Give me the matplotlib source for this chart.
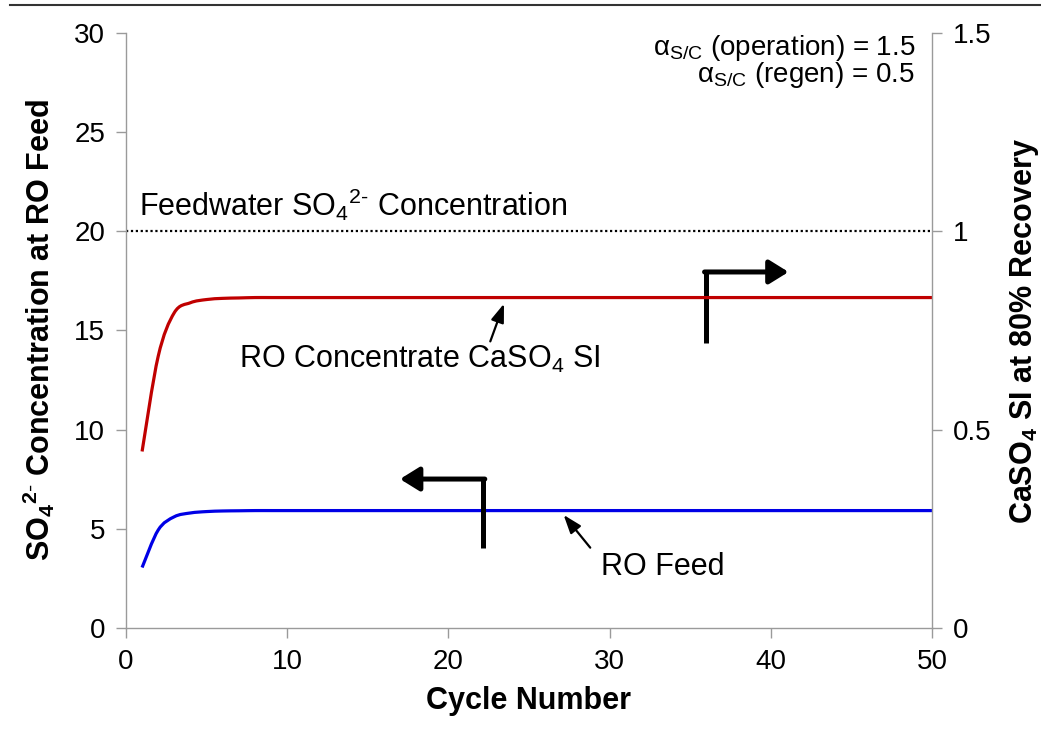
import matplotlib
matplotlib.use("Agg")
import matplotlib.pyplot as plt
from matplotlib.lines import Line2D
from matplotlib.path import Path
from matplotlib.patches import PathPatch

plt.rcParams['font.family'] = ['Liberation Sans', 'DejaVu Sans']
plt.rcParams['mathtext.fontset'] = 'custom'
plt.rcParams['mathtext.rm'] = 'Liberation Sans'
plt.rcParams['mathtext.it'] = 'Liberation Sans:italic'
plt.rcParams['mathtext.bf'] = 'Liberation Sans:bold'

# ---- data ----
cycles = list(range(1, 51))
ro_feed_head = [3.05, 4.94, 5.61, 5.80, 5.87, 5.90, 5.91]
ro_feed = ro_feed_head + [5.92] * (50 - len(ro_feed_head))
si_head = [0.445, 0.685, 0.795, 0.820, 0.828, 0.831, 0.832]
conc_si = si_head + [0.833] * (50 - len(si_head))
feedwater_so4 = 20

x_ticks = [0, 10, 20, 30, 40, 50]
y_left_ticks = [0, 5, 10, 15, 20, 25, 30]
y_right_ticks = [0, 0.5, 1, 1.5]
y_right_labels = ['0', '0.5', '1', '1.5']


def smooth_line(axis, xs, ys, **kw):
    """Excel-style smoothed line (Catmull-Rom Bezier through the data points)."""
    n = len(xs)
    verts = [(xs[0], ys[0])]
    codes = [Path.MOVETO]
    t = 1.0 / 6.0
    for i in range(n - 1):
        x0, y0 = (xs[i - 1], ys[i - 1]) if i > 0 else (xs[i], ys[i])
        x1, y1 = xs[i], ys[i]
        x2, y2 = xs[i + 1], ys[i + 1]
        x3, y3 = (xs[i + 2], ys[i + 2]) if i + 2 < n else (xs[i + 1], ys[i + 1])
        c1 = (x1 + (x2 - x0) * t, y1 + (y2 - y0) * t)
        c2 = (x2 - (x3 - x1) * t, y2 - (y3 - y1) * t)
        verts += [c1, c2, (x2, y2)]
        codes += [Path.CURVE4] * 3
    patch = PathPatch(Path(verts, codes), fill=False, **kw)
    axis.add_patch(patch)
    return patch


fig = plt.figure(figsize=(10.41, 7.31), dpi=100)
ax = fig.add_axes([0.121, 0.1409, 0.7743, 0.814])
ax2 = ax.twinx()

gray = '#9a9a9a'
smooth_line(ax, cycles, ro_feed, edgecolor='#0000E6', lw=2.3, capstyle='butt')
smooth_line(ax2, cycles, conc_si, edgecolor='#C00000', lw=2.3, capstyle='butt')
ax.axhline(feedwater_so4, color='black', lw=1.6, ls=(0, (1, 1.2)))

ax.set_xlim(0, 50)
ax.set_ylim(0, 30)
ax2.set_ylim(0, 1.5)
ax.set_xticks(x_ticks)
ax.set_yticks(y_left_ticks)
ax2.set_yticks(y_right_ticks)
ax2.set_yticklabels(y_right_labels)

for a in (ax, ax2):
    a.spines['top'].set_visible(False)
    for s in ('left', 'right', 'bottom'):
        a.spines[s].set_color(gray)
        a.spines[s].set_linewidth(1.0)
    a.tick_params(colors=gray, labelcolor='black', labelsize=20, length=7, width=1.0, direction='out', pad=8)
ax.spines['right'].set_visible(False)
ax2.spines['left'].set_visible(False)
ax2.spines['bottom'].set_visible(False)

ax.set_xlabel('Cycle Number', fontsize=22, fontweight='bold', labelpad=8)
ax.set_ylabel(r'$\mathbf{SO}_\mathbf{4}{}^{\mathbf{2}\text{-}}$ Concentration at RO Feed',
              fontsize=22, fontweight='bold', labelpad=12)
ax2.set_ylabel(r'$\mathbf{CaSO}_\mathbf{4}$ SI at 80% Recovery', fontsize=22, fontweight='bold', labelpad=12)

# annotations
ax.text(0.8, 20.78, r'Feedwater SO$_4{}^{2\text{-}}$ Concentration', fontsize=22, va='baseline', ha='left')
ax.text(7.0, 13.11, r'RO Concentrate CaSO$_4$ SI', fontsize=22, va='baseline', ha='left')
ax.text(29.45, 2.67, 'RO Feed', fontsize=22, va='baseline', ha='left')
ax.text(48.95, 28.9, r'α$_{\mathrm{S/C}}$ (operation) = 1.5', fontsize=20, va='baseline', ha='right')
ax.text(48.95, 27.55, r'α$_{\mathrm{S/C}}$ (regen) = 0.5', fontsize=20, va='baseline', ha='right')

# small pointer arrows
ax.annotate('', xy=(23.45, 16.35), xytext=(22.6, 14.45),
            arrowprops=dict(arrowstyle='-|>,head_length=0.7,head_width=0.25', color='black', lw=1.6,
                            mutation_scale=16, shrinkA=0, shrinkB=0))
ax.annotate('', xy=(27.15, 5.7), xytext=(28.8, 4.05),
            arrowprops=dict(arrowstyle='-|>,head_length=0.7,head_width=0.25', color='black', lw=1.6,
                            mutation_scale=16, shrinkA=0, shrinkB=0))

# bent axis-indicator arrows
ax.plot([36, 36], [14.37, 17.95], color='black', lw=3.6, solid_capstyle='butt')
ax.annotate('', xy=(41.1, 17.95), xytext=(35.89, 17.95),
            arrowprops=dict(arrowstyle='-|>,head_length=0.58,head_width=0.36', color='black', lw=3.6,
                            mutation_scale=20, shrinkA=0, shrinkB=0))
ax.plot([22.15, 22.15], [4.03, 7.51], color='black', lw=3.6, solid_capstyle='butt')
ax.annotate('', xy=(17.0, 7.51), xytext=(22.26, 7.51),
            arrowprops=dict(arrowstyle='-|>,head_length=0.58,head_width=0.36', color='black', lw=3.6,
                            mutation_scale=20, shrinkA=0, shrinkB=0))

# top border line
fig.add_artist(Line2D([0.01, 1.0], [0.993, 0.993], transform=fig.transFigure, color='#333333', lw=1.5))

fig.savefig('out.png', dpi=100)
